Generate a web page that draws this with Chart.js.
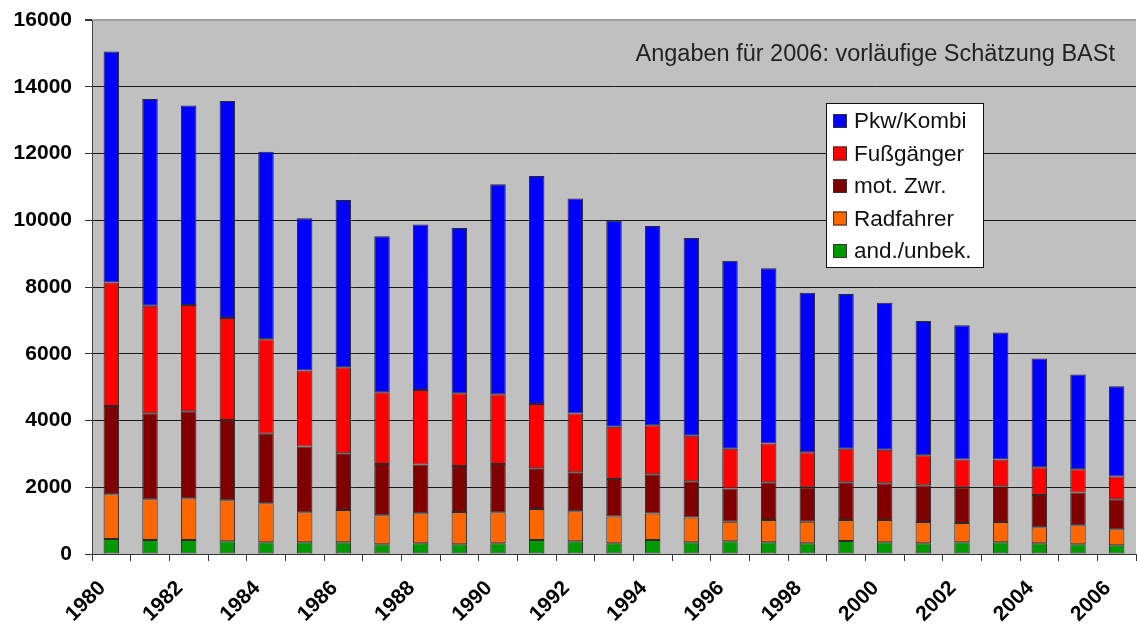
<!DOCTYPE html>
<html>
<head>
<meta charset="utf-8">
<script src="https://cdn.jsdelivr.net/npm/chart.js@4.4.0/dist/chart.umd.min.js"></script>
<style>
  html, body { margin: 0; padding: 0; background: #fff; }
  #wrap { width: 1137px; height: 630px; position: relative; }
</style>
</head>
<body>
<div id="wrap"><canvas id="chart"></canvas></div>
<script>
const years = ['1980','1981','1982','1983','1984','1985','1986','1987','1988','1989',
  '1990','1991','1992','1993','1994','1995','1996','1997','1998','1999',
  '2000','2001','2002','2003','2004','2005','2006'];

const andUnbek = [450, 420, 420, 380, 350, 350, 350, 290, 320, 290,
  320, 420, 380, 320, 420, 350, 380, 350, 320, 390,
  350, 320, 350, 350, 320, 290, 260];
const radfahrer = [1340, 1220, 1250, 1230, 1170, 900, 970, 870, 900, 970,
  930, 930, 900, 800, 790, 740, 590, 670, 650, 630,
  670, 640, 580, 610, 480, 570, 480];
const motZwr = [2645, 2580, 2605, 2405, 2080, 1970, 1700, 1540, 1460, 1380,
  1450, 1220, 1170, 1130, 1180, 1090, 990, 1130, 1030, 1130,
  1100, 1100, 1070, 1070, 970, 980, 900];
const fussgaenger = [3700, 3215, 3185, 3055, 2835, 2275, 2575, 2145, 2235, 2175,
  2085, 1925, 1760, 1565, 1470, 1360, 1190, 1160, 1050, 1000,
  1000, 900, 830, 800, 830, 700, 680];
const pkwKombi = [6920, 6200, 5980, 6500, 5620, 4565, 5015, 4675, 4955, 4955,
  6295, 6830, 6440, 6170, 5965, 5925, 5640, 5250, 4775, 4640,
  4410, 4025, 4025, 3805, 3255, 2835, 2705];

const yTicks = [0, 2000, 4000, 6000, 8000, 10000, 12000, 14000, 16000];
const note = 'Angaben für 2006: vorläufige Schätzung BASt';

const FONT = 'Liberation Sans, Arial, sans-serif';

function series(label, data, color) {
  return {
    label,
    data,
    backgroundColor: color,
    borderColor: '#2a2a2a',
    borderWidth: 1,
    borderSkipped: false,
    barPercentage: 0.4,
    categoryPercentage: 1.0,
  };
}

const plotBackground = {
  id: 'plotBackground',
  beforeDraw(chart) {
    const { ctx, chartArea: a } = chart;
    ctx.save();
    ctx.fillStyle = '#c0c0c0';
    ctx.fillRect(a.left, a.top, a.right - a.left, a.bottom - a.top);
    ctx.restore();
  },
};

const boxLegend = {
  id: 'boxLegend',
  afterDraw(chart) {
    const { ctx, chartArea: a } = chart;
    const items = chart.data.datasets.slice().reverse();
    const x = a.right - 310, y = a.top + 83, w = 157, h = 164;
    ctx.save();
    ctx.fillStyle = '#fff';
    ctx.fillRect(x, y, w, h);
    ctx.strokeStyle = '#111';
    ctx.lineWidth = 1;
    ctx.strokeRect(x + 0.5, y + 0.5, w, h);
    ctx.font = '22.5px ' + FONT;
    ctx.textBaseline = 'middle';
    items.forEach((d, i) => {
      const cy = y + 18 + i * 32.5;
      ctx.fillStyle = d.backgroundColor;
      ctx.fillRect(x + 7, cy - 7, 14, 14);
      ctx.strokeStyle = '#333';
      ctx.strokeRect(x + 7.5, cy - 6.5, 13, 13);
      ctx.fillStyle = '#111';
      ctx.fillText(d.label, x + 28, cy + 1);
    });
    // annotation
    ctx.font = '23.5px ' + FONT;
    ctx.textAlign = 'right';
    ctx.fillStyle = '#222';
    ctx.fillText(note, a.right - 21, a.top + 35);
    ctx.restore();
  },
};

new Chart(document.getElementById('chart'), {
  type: 'bar',
  data: {
    labels: years,
    datasets: [
      series('and./unbek.', andUnbek, '#009900'),
      series('Radfahrer', radfahrer, '#ff6600'),
      series('mot. Zwr.', motZwr, '#800000'),
      series('Fußgänger', fussgaenger, '#ff0000'),
      series('Pkw/Kombi', pkwKombi, '#0000ff'),
    ],
  },
  options: {
    responsive: true,
    maintainAspectRatio: false,
    animation: false,
    layout: { padding: { top: 20, right: 1, bottom: 0, left: 0 } },
    plugins: {
      legend: { display: false },
      tooltip: { enabled: false },
    },
    scales: {
      x: {
        stacked: true,
        offset: true,
        grid: {
          drawOnChartArea: false,
          drawTicks: true,
          tickLength: 7,
          color: '#333',
          offset: true,
        },
        border: { display: true, color: '#333', width: 1 },
        ticks: {
          autoSkip: false,
          minRotation: 45,
          maxRotation: 45,
          color: '#000',
          padding: 15,
          labelOffset: -9,
          font: { family: FONT, size: 21, weight: 'bold' },
          callback(v, i) { return i % 2 === 0 ? years[i] : ''; },
        },
        afterFit(scale) {
          scale.height = 76;
          scale.paddingLeft = 0;
          scale.paddingRight = 0;
        },
      },
      y: {
        stacked: true,
        min: 0,
        max: 16000,
        afterBuildTicks(scale) { scale.ticks = yTicks.map(v => ({ value: v })); },
        grid: {
          color: ctx => (ctx.tick && ctx.tick.value === 16000 ? '#a0a0a0' : '#1a1a1a'),
          lineWidth: ctx => (ctx.tick && ctx.tick.value === 16000 ? 2 : 1),
          tickColor: '#333',
          tickLength: 7,
        },
        border: { display: true, color: '#444', width: 1 },
        ticks: {
          color: '#000',
          padding: 13,
          font: { family: FONT, size: 21, weight: 'bold' },
          callback: v => String(v),
        },
        afterFit(scale) {
          scale.width = 92;
          scale.paddingTop = 0;
          scale.paddingBottom = 0;
        },
      },
    },
  },
  plugins: [plotBackground, boxLegend],
});
</script>
</body>
</html>
